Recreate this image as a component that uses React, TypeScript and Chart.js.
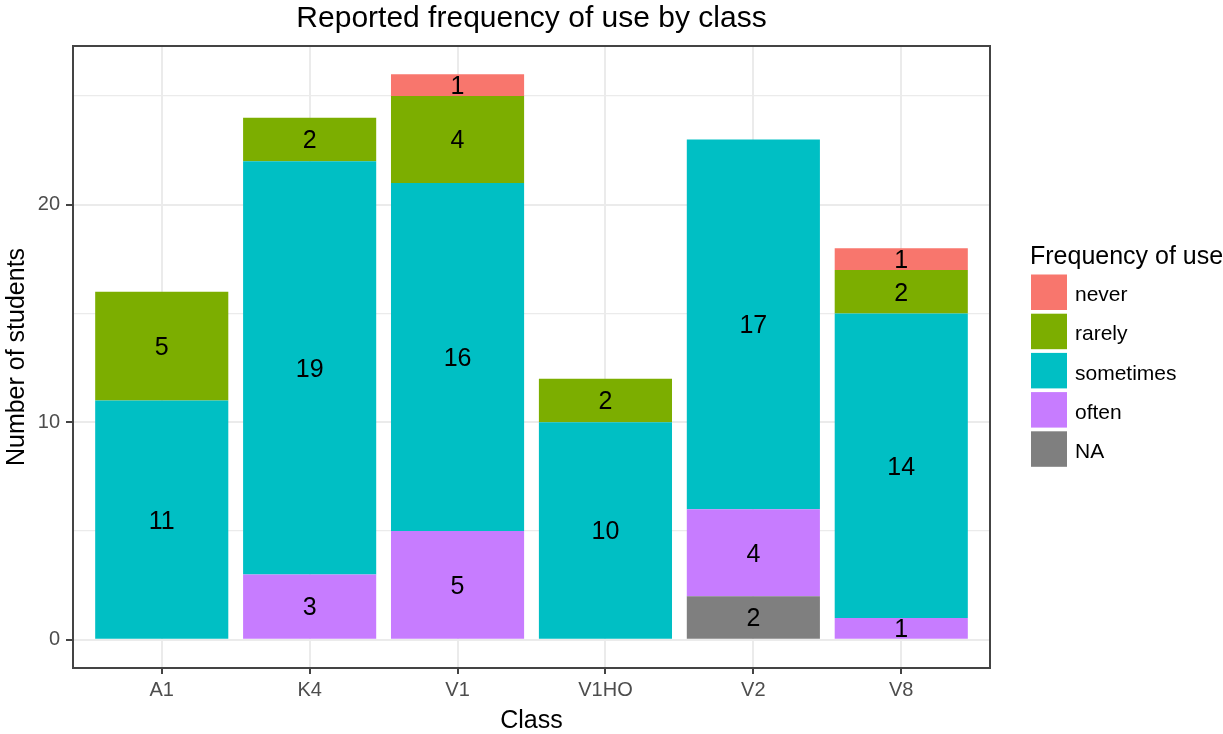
import React, { useEffect, useRef } from "react";
import { Chart, registerables } from "chart.js";

Chart.register(...registerables);

// ---- data ----
const categories = ["A1", "K4", "V1", "V1HO", "V2", "V8"];
const naValues = [0, 0, 0, 0, 2, 0];
const oftenValues = [0, 3, 5, 0, 4, 1];
const sometimesValues = [11, 19, 16, 10, 17, 14];
const rarelyValues = [5, 2, 4, 2, 0, 2];
const neverValues = [0, 0, 1, 0, 0, 1];
const yGridTicks = [0, 5, 10, 15, 20, 25];
const yLabelTicks = [0, 10, 20];

const FONT = '"Liberation Sans", Arial, Helvetica, sans-serif';
const palette: Record<string, string> = {
  never: "#F8766D",
  rarely: "#7CAE00",
  sometimes: "#00BFC4",
  often: "#C77CFF",
  NA: "#7F7F7F",
};

// stacking order (bottom to top)
const seriesList: [string, number[]][] = [
  ["NA", naValues],
  ["often", oftenValues],
  ["sometimes", sometimesValues],
  ["rarely", rarelyValues],
  ["never", neverValues],
];

const barLabelPlugin = {
  id: "barLabels",
  afterDatasetsDraw(chart: any) {
    const ctx = chart.ctx;
    ctx.save();
    ctx.font = `25px ${FONT}`;
    ctx.fillStyle = "#000000";
    ctx.textAlign = "center";
    ctx.textBaseline = "middle";
    chart.data.datasets.forEach((ds: any, i: number) => {
      const meta = chart.getDatasetMeta(i);
      meta.data.forEach((el: any, j: number) => {
        const v = ds.data[j].y;
        if (!v) return;
        const p = el.getProps(["x", "y", "base"], true);
        ctx.fillText(String(v), p.x, (p.y + p.base) / 2 + 2);
      });
    });
    ctx.restore();
  },
};

const panelBorderPlugin = {
  id: "panelBorder",
  afterDraw(chart: any) {
    const { ctx, chartArea } = chart;
    ctx.save();
    ctx.strokeStyle = "#444444";
    ctx.lineWidth = 2;
    ctx.strokeRect(
      chartArea.left,
      chartArea.top,
      chartArea.right - chartArea.left,
      chartArea.bottom - chartArea.top
    );
    ctx.restore();
  },
};

const legendPlugin = {
  id: "ggLegend",
  afterDraw(chart: any) {
    const ctx = chart.ctx;
    const x0 = 1031;
    ctx.save();
    ctx.fillStyle = "#000000";
    ctx.textAlign = "left";
    ctx.textBaseline = "middle";
    ctx.font = `25px ${FONT}`;
    ctx.fillText("Frequency of use", x0 - 1, 257);
    const items = [...chart.data.datasets].reverse();
    ctx.font = `21px ${FONT}`;
    items.forEach((ds: any, i: number) => {
      const y = 274.5 + i * 39.2;
      ctx.fillStyle = ds.backgroundColor;
      ctx.fillRect(x0, y, 36, 35.5);
      ctx.fillStyle = "#000000";
      ctx.fillText(ds.label, 1075, y + 21);
    });
    ctx.restore();
  },
};

export default function App() {
  const canvasRef = useRef<HTMLCanvasElement | null>(null);

  useEffect(() => {
    if (!canvasRef.current) return;
    Chart.defaults.font.family = FONT;
    const chart = new Chart(canvasRef.current, {
      type: "bar",
      data: {
        datasets: seriesList.map(([name, vals]) => ({
          label: name,
          data: vals.map((v, i) => ({ x: i + 1, y: v })),
          backgroundColor: palette[name],
          borderWidth: 0,
          barPercentage: 0.9,
          categoryPercentage: 1,
        })),
      },
      options: {
        animation: false,
        responsive: false,
        maintainAspectRatio: false,
        devicePixelRatio: 1,
        layout: { padding: { left: 0, right: 233, top: 0, bottom: 0 } },
        plugins: {
          legend: { display: false },
          tooltip: { enabled: false },
          title: {
            display: true,
            text: "Reported frequency of use by class",
            fullSize: false,
            color: "#000000",
            font: { size: 30, weight: "normal", family: FONT, lineHeight: 1 },
            padding: { top: 4, bottom: 12 },
          },
        },
        scales: {
          x: {
            type: "linear",
            stacked: true,
            offset: false,
            min: 0.4,
            max: 6.6,
            afterBuildTicks: (axis: any) => {
              axis.ticks = categories.map((_, i) => ({ value: i + 1 }));
            },
            afterFit: (axis: any) => {
              axis.height = 66;
            },
            ticks: {
              callback: (v: any) => categories[Math.round(Number(v)) - 1] ?? "",
              color: "#4D4D4D",
              font: { size: 20, family: FONT },
              padding: 4,
              maxRotation: 0,
              autoSkip: false,
            },
            grid: {
              offset: false,
              color: "#EBEBEB",
              lineWidth: 2,
              tickColor: "#444444",
              tickWidth: 2,
              tickLength: 6,
            },
            border: { display: false },
            title: {
              display: true,
              text: "Class",
              color: "#000000",
              font: { size: 25, family: FONT, lineHeight: 1 },
              padding: { top: 0, bottom: 0 },
            },
          },
          y: {
            type: "linear",
            stacked: true,
            min: -1.3,
            max: 27.3,
            afterBuildTicks: (axis: any) => {
              axis.ticks = yGridTicks.map((v) => ({ value: v }));
            },
            afterFit: (axis: any) => {
              axis.width = 73;
            },
            ticks: {
              callback: (v: any) => (yLabelTicks.includes(Number(v)) ? String(v) : ""),
              color: "#4D4D4D",
              font: { size: 20, family: FONT },
              padding: 6,
            },
            grid: {
              color: "#EBEBEB",
              lineWidth: (c: any) => (yLabelTicks.includes(c.tick?.value) ? 2 : 1.2),
              tickColor: (c: any) =>
                yLabelTicks.includes(c.tick?.value) ? "#444444" : "rgba(0,0,0,0)",
              tickWidth: 2,
              tickLength: 7,
            },
            border: { display: false },
            title: {
              display: true,
              text: "Number of students",
              color: "#000000",
              font: { size: 25, family: FONT, lineHeight: 1 },
              padding: { top: 5, bottom: 0 },
            },
          },
        },
      } as any,
      plugins: [barLabelPlugin, panelBorderPlugin, legendPlugin],
    });
    return () => chart.destroy();
  }, []);

  return (
    <div style={{ position: "absolute", left: 0, top: 0, width: 1223, height: 734, background: "#FFFFFF" }}>
      <canvas ref={canvasRef} width={1223} height={734} style={{ display: "block" }} />
    </div>
  );
}
